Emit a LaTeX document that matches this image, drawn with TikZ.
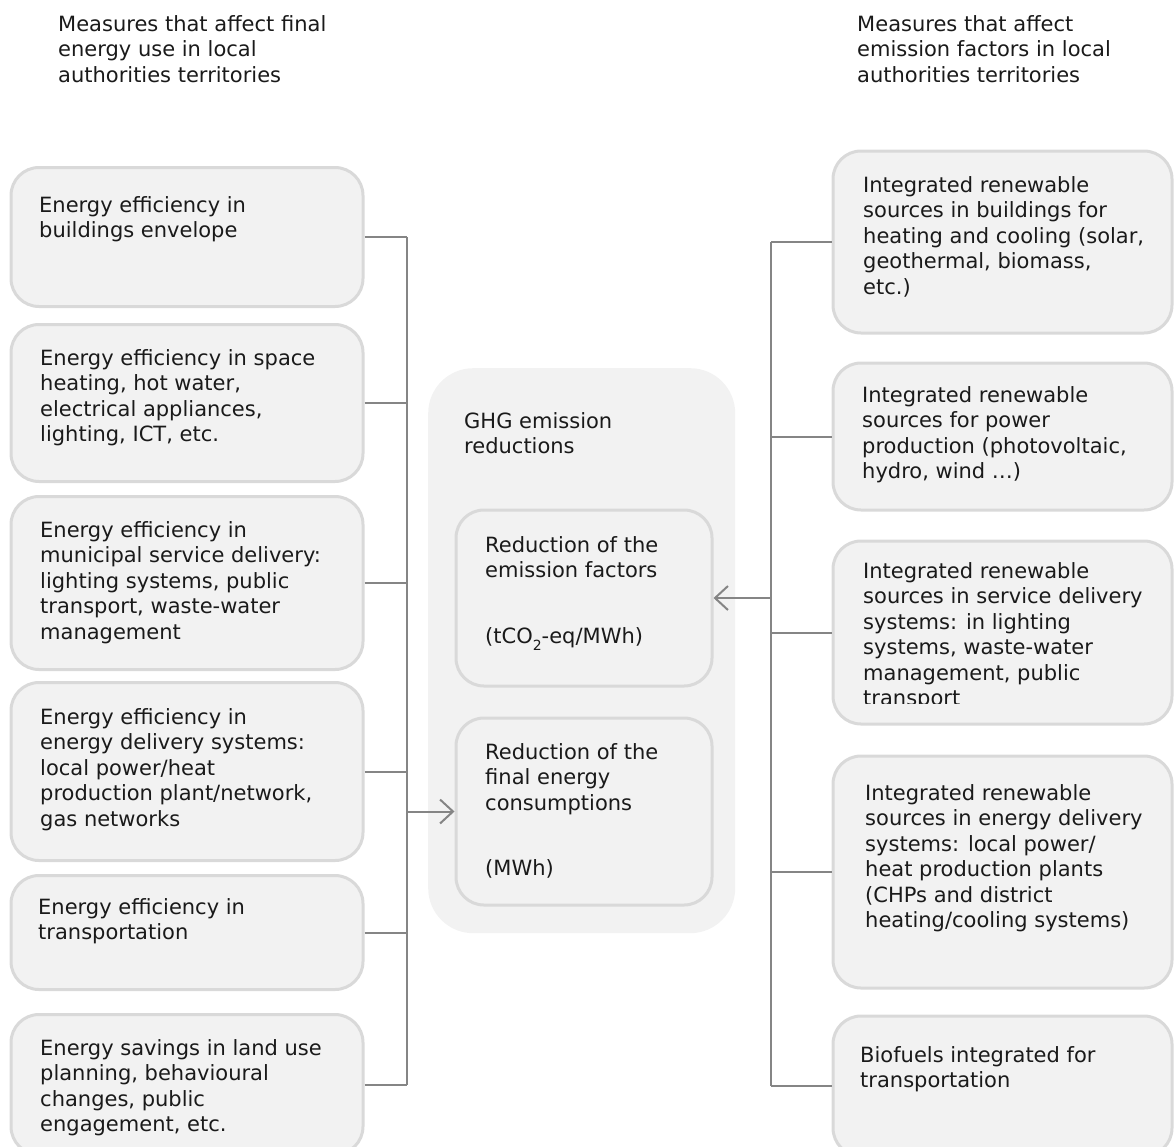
\documentclass[tikz,border=0pt]{standalone}
\usepackage{fontspec}
\setmainfont{DejaVu Sans}
\usetikzlibrary{positioning, arrows.meta, calc}
\definecolor{boxfill}{HTML}{F2F2F2}
\definecolor{boxline}{HTML}{D9D9D9}
\definecolor{wire}{HTML}{858585}
\definecolor{ink}{HTML}{1A1A1A}

\tikzset{
  box/.style={draw=boxline, line width=3pt, fill=boxfill, rounded corners=28pt,
              anchor=north west, inner sep=0pt},
  txt/.style={anchor=north west, align=left, inner sep=0pt, text=ink,
              font=\fontsize{21}{25.5}\selectfont},
  wire/.style={draw=wire, line width=2pt},
  feed/.style={wire, -{Straight Barb[length=13pt, width=24pt]}}
}
\newcommand{\subtwo}{\raisebox{-7pt}{\fontsize{14}{14}\selectfont 2}}

\begin{document}
\begin{tikzpicture}[x=1pt, y=-1pt]
  \useasboundingbox (0,0) rectangle (1174,1146);

  % Headings
  \node[txt] (headL) at (58,15) {Measures that affect final\\energy use in local\\authorities territories};
  \node[txt] (headR) at (857,15) {Measures that affect\\emission factors in local\\authorities territories};

  % Left column
  \foreach \n/\t/\h in {l1/166/139, l2/323/157, l3/495/173, l4/681/178, l5/874/114, l6/1013/140} {
    \node[box, minimum width=352, minimum height=\h] (\n) at (9.5,\t) {};
  }
  \node[txt] (l1t) at (39,196) {Energy efficiency in\\buildings envelope};
  \node[txt] (l2t) at (40,349) {Energy efficiency in space\\heating, hot water,\\electrical appliances,\\lighting, ICT, etc.};
  \node[txt] (l3t) at (40,521) {Energy efficiency in\\municipal service delivery:\\lighting systems, public\\transport, waste-water\\management};
  \node[txt] (l4t) at (40,708) {Energy efficiency in\\energy delivery systems:\\local power/heat\\production plant/network,\\gas networks};
  \node[txt] (l5t) at (38,898) {Energy efficiency in\\transportation};
  \node[txt] (l6t) at (40,1039) {Energy savings in land use\\planning, behavioural\\changes, public\\engagement, etc.};

  % Centre
  \node[fill=boxfill, rounded corners=45pt, anchor=north west, inner sep=0pt,
        minimum width=307, minimum height=565] (ghg) at (428,368) {};
  \node[txt] (ghgt) at (464,412) {GHG emission\\reductions};
  \node[box, minimum width=256, minimum height=176] (ef) at (454.5,508.5) {};
  \node[box, minimum width=256, minimum height=187] (fe) at (454.5,716.5) {};
  \node[txt] (eft) at (485,536) {Reduction of the\\emission factors\\[40pt](tCO\subtwo-eq/MWh)};
  \node[txt] (fet) at (485,743) {Reduction of the\\final energy\\consumptions\\[40pt](MWh)};

  % Right column
  \foreach \n/\t/\h in {r1/149.5/182, r2/361.5/147, r3/539.5/183, r4/754.5/232, r5/1014.5/140} {
    \node[box, minimum width=339, minimum height=\h] (\n) at (831.5,\t) {};
  }
  \node[txt] (r1t) at (863,176) {Integrated renewable\\sources in buildings for\\heating and cooling (solar,\\geothermal, biomass,\\etc.)};
  \node[txt] (r2t) at (862,386) {Integrated renewable\\sources for power\\production (photovoltaic,\\hydro, wind …)};
  \begin{scope}
    \clip (830,540) rectangle (1172,703);
    \node[txt] (r3t) at (863,562) {Integrated renewable\\sources in service delivery\\systems: in lighting\\systems, waste-water\\management, public\\transport};
  \end{scope}
  \node[txt] (r4t) at (865,784) {Integrated renewable\\sources in energy delivery\\systems: local power/\\heat production plants\\(CHPs and district\\heating/cooling systems)};
  \node[txt] (r5t) at (860,1046) {Biofuels integrated for\\transportation};

  % Connectors
  \coordinate (lbus) at (407,0);
  \coordinate (rbus) at (771,0);
  \foreach \n in {l1, l2, l3, l4, l5, l6}
    \draw[wire] (\n.east) -- (\n.east -| lbus);
  \draw[wire] (l1.east -| lbus) -- (l6.east -| lbus);
  \foreach \n in {r1, r2, r3, r4, r5}
    \draw[wire] (\n.west) -- (\n.west -| rbus);
  \draw[wire] (r1.west -| rbus) -- (r5.west -| rbus);
  \draw[feed] (fe.west -| lbus) -- (fe.west);
  \draw[feed] (ef.east -| rbus) -- (ef.east);
\end{tikzpicture}
\end{document}
